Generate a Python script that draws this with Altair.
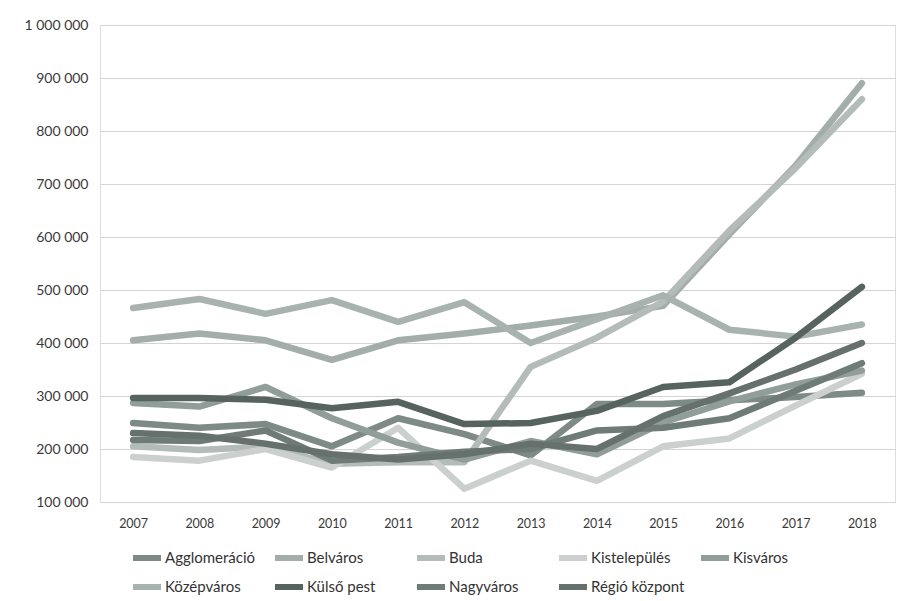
import altair as alt
import pandas as pd

years = [str(y) for y in range(2007, 2019)]

series_names = ["Agglomeráció", "Belváros", "Buda", "Kistelepülés", "Kisváros",
                "Középváros", "Külső pest", "Nagyváros", "Régió központ"]

agglomeracio = [249000, 240000, 247000, 205000, 258000, 228000, 188000, 285000, 285000, 292000, 298000, 306000]
belvaros = [405000, 418000, 405000, 368000, 405000, 418000, 433000, 450000, 470000, 605000, 735000, 890000]
buda = [205000, 198000, 205000, 172000, 175000, 175000, 355000, 410000, 478000, 612000, 730000, 860000]
kistelepules = [185000, 178000, 200000, 165000, 240000, 125000, 178000, 140000, 205000, 220000, 282000, 342000]
kisvaros = [287000, 280000, 317000, 258000, 212000, 180000, 215000, 190000, 250000, 290000, 322000, 348000]
kozepvaros = [466000, 483000, 455000, 481000, 440000, 477000, 400000, 445000, 490000, 425000, 412000, 435000]
kulso_pest = [296000, 296000, 293000, 277000, 289000, 247000, 249000, 272000, 317000, 326000, 410000, 506000]
nagyvaros = [217000, 215000, 235000, 178000, 185000, 195000, 200000, 235000, 240000, 258000, 310000, 362000]
regio_kozpont = [230000, 225000, 210000, 190000, 180000, 190000, 210000, 200000, 262000, 305000, 350000, 400000]

values = [agglomeracio, belvaros, buda, kistelepules, kisvaros,
          kozepvaros, kulso_pest, nagyvaros, regio_kozpont]

colors = ["#7d8a86", "#a3ada9", "#b4bcb9", "#cbd0ce", "#919d99",
          "#a8b2ae", "#56635f", "#6e7b77", "#66716e"]

rows = []
for i, (name, vals) in enumerate(zip(series_names, values)):
    for y, v in zip(years, vals):
        rows.append({"Év": y, "Érték": v, "Sorozat": name, "ord": i})
df = pd.DataFrame(rows)

chart = alt.Chart(df).mark_line(
    strokeWidth=6.5, strokeCap="round", strokeJoin="round"
).encode(
    x=alt.X("Év:O", title=None,
            scale=alt.Scale(type="point", padding=0.5),
            axis=alt.Axis(labelAngle=0, ticks=False, domain=False, grid=False,
                          labelFont="Lato", labelFontSize=12.5, labelColor="#3a3a3a",
                          labelPadding=15)),
    y=alt.Y("Érték:Q", title=None,
            scale=alt.Scale(domain=[100000, 1000000], nice=False, zero=False),
            axis=alt.Axis(values=list(range(100000, 1000001, 100000)),
                          labelExpr="replace(format(datum.value, ','), /,/g, ' ')",
                          ticks=False, domain=False, grid=True,
                          gridColor="#d4d4d4", gridWidth=1,
                          labelFont="Lato", labelFontSize=14, labelColor="#3a3a3a",
                          labelPadding=12)),
    color=alt.Color("Sorozat:N", title=None,
                    scale=alt.Scale(domain=series_names, range=colors),
                    legend=alt.Legend(orient="none", direction="horizontal",
                                      columns=5, legendX=30, legendY=516,
                                      symbolType="stroke", symbolSize=784,
                                      symbolStrokeWidth=6, labelFont="Lato",
                                      labelFontSize=15, labelColor="#333333",
                                      labelOffset=1, columnPadding=4, rowPadding=-1,
                                      gridAlign="all", padding=0)),
    order=alt.Order("ord:Q"),
    detail="Sorozat:N",
).properties(
    width=795, height=477,
    autosize=alt.AutoSizeParams(type="none"),
    padding={"left": 100, "top": 25, "right": 11, "bottom": 99},
).configure_view(stroke=None).configure(background="white")

chart.save("out.html", embed_options={"renderer": "svg", "actions": False})
